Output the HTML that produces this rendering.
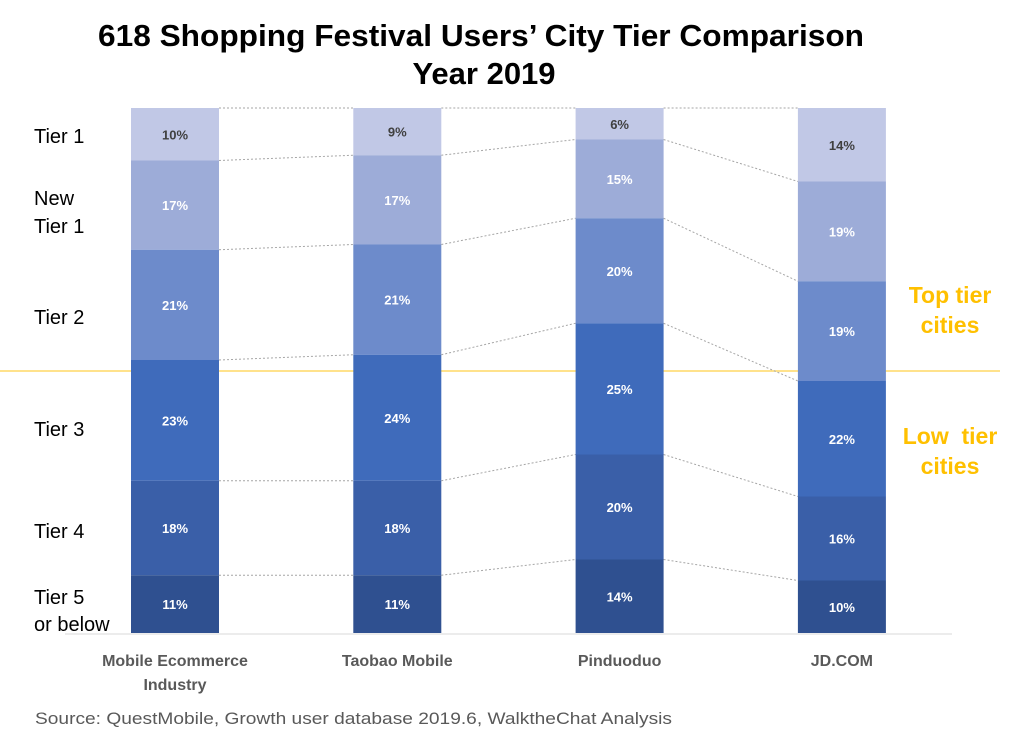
<!DOCTYPE html>
<html><head><meta charset="utf-8"><style>
body{margin:0;background:#fff;width:1024px;height:740px;overflow:hidden;font-family:"Liberation Sans",sans-serif}
</style></head><body>
<svg id="chart" width="1024" height="740" xmlns="http://www.w3.org/2000/svg">
<text x="481" y="46" text-anchor="middle" font-size="31" font-weight="bold" fill="#000" textLength="766" lengthAdjust="spacingAndGlyphs">618 Shopping Festival Users’ City Tier Comparison</text>
<text x="484" y="84" text-anchor="middle" font-size="31" font-weight="bold" fill="#000">Year 2019</text>
<line x1="0" y1="371" x2="1000" y2="371" stroke="#ffd966" stroke-width="1.5"/>
<line x1="65" y1="634" x2="952" y2="634" stroke="#d9d9d9" stroke-width="1"/>
<g id="links"></g><g id="bars"></g><g id="labels"></g>
<text x="950" y="303" text-anchor="middle" font-size="23" font-weight="bold" fill="#ffc000">Top tier</text>
<text x="950" y="333" text-anchor="middle" font-size="23" font-weight="bold" fill="#ffc000">cities</text>
<text x="950" y="444" text-anchor="middle" font-size="23" font-weight="bold" fill="#ffc000" xml:space="preserve">Low  tier</text>
<text x="950" y="474" text-anchor="middle" font-size="23" font-weight="bold" fill="#ffc000">cities</text>
<text x="35" y="724" font-size="17" fill="#595959" textLength="637" lengthAdjust="spacingAndGlyphs">Source: QuestMobile, Growth user database 2019.6, WalktheChat Analysis</text>
</svg>
<script>
const categories=["Mobile Ecommerce|Industry","Taobao Mobile","Pinduoduo","JD.COM"];
const tiers=["Tier 1","New|Tier 1","Tier 2","Tier 3","Tier 4","Tier 5|or below"];
const tier1=[10,9,6,14];
const newTier1=[17,17,15,19];
const tier2=[21,21,20,19];
const tier3=[23,24,25,22];
const tier4=[18,18,20,16];
const tier5=[11,11,14,10];
const series=[tier1,newTier1,tier2,tier3,tier4,tier5];
const colors=["#c1c8e6","#9dacd8","#6d8bcb","#3f6bbb","#3a5fa8","#2f5090"];
const textColors=["#404040","#fff","#fff","#fff","#fff","#fff"];
const tierLabelY=[143,[205,233],324,436,538,[604,631]];
const NS="http://www.w3.org/2000/svg";
const top0=108,bottom0=633,bw=88;
const xs=i=>131+i*222.3;
const y=v=>top0+v*(bottom0-top0)/100;
function mk(t,a,p){const e=document.createElementNS(NS,t);for(const k in a)e.setAttribute(k,a[k]);document.getElementById(p).appendChild(e);return e;}
const cum=categories.map(()=>0);
const bounds=[];
series.forEach((s,si)=>{
  const row=[];
  s.forEach((v,ci)=>{
    const y0=y(cum[ci]),y1=y(cum[ci]+v);
    const r=mk("rect",{x:xs(ci),y:y0,width:bw,height:y1-y0,fill:colors[si]},"bars");
    
    
    const t=mk("text",{x:xs(ci)+bw/2,y:(y0+y1)/2+5,"text-anchor":"middle","font-size":"13","font-weight":"bold",fill:textColors[si]},"labels");
    t.textContent=v+"%";
    
    
    row.push(y0);
    cum[ci]+=v;
  });
  bounds.push(row);
});
bounds.forEach((row)=>{
  for(let ci=0;ci<categories.length-1;ci++){
    const l=mk("line",{x1:xs(ci)+bw,y1:row[ci],x2:xs(ci+1),y2:row[ci+1],stroke:"#a6a6a6","stroke-width":"1","stroke-dasharray":"2,2"},"links");
    
    
  }
});
tiers.forEach((name,i)=>{
  const parts=name.split("|");
  const ys=[].concat(tierLabelY[i]);
  parts.forEach((p,pi)=>{
    const t=mk("text",{x:34,y:ys[pi],"font-size":"20",fill:"#000"},"labels");
    t.textContent=p;
    
    
  });
});
categories.forEach((c,ci)=>{
  c.split("|").forEach((p,pi)=>{
    const t=mk("text",{x:xs(ci)+bw/2,y:666+pi*24,"text-anchor":"middle","font-size":"16","font-weight":"bold",fill:"#595959"},"labels");
    t.textContent=p;
    
    
  });
});
</script>
</body></html>
